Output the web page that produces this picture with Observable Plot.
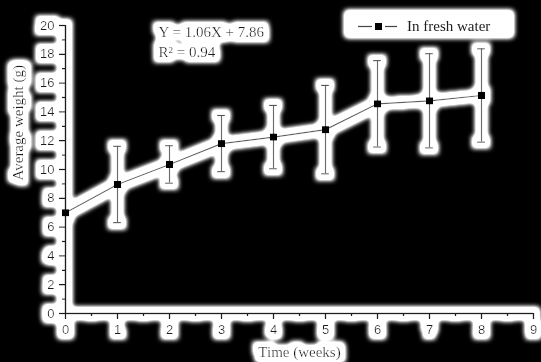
<!DOCTYPE html>
<html>
<head>
<meta charset="utf-8">
<script src="https://cdn.jsdelivr.net/npm/d3@7"></script>
<script src="https://cdn.jsdelivr.net/npm/@observablehq/plot@0.6"></script>
<style>
  html, body { margin: 0; padding: 0; background: #000; }
  #chart svg { display: block; background: #000; }
</style>
</head>
<body>
<div id="chart"></div>
<script>
// Average fish weight over nine weeks, mean ± SD
const weeks = [0, 1, 2, 3, 4, 5, 6, 7, 8];
const meanWeight = [7.0, 8.96, 10.35, 11.8, 12.25, 12.77, 14.56, 14.77, 15.14];
const sdWeight = [0, 2.65, 1.3, 1.95, 2.2, 3.07, 3.0, 3.27, 3.24];

const xTicks = d3.range(0, 10, 1);
const xMinorTicks = d3.range(0.5, 9, 1);
const yTicks = d3.range(0, 21, 2);
const yMinorTicks = d3.range(1, 20, 2);

const seriesName = "In fresh water";
const xTitle = "Time (weeks)";
const yTitle = "Average weight (g)";
const fitLines = ["Y = 1.06X + 7.86", "R\u00B2 = 0.94"];

const rows = weeks.map((w, i) => ({week: w, mean: meanWeight[i], sd: sdWeight[i]}));
const withSpread = rows.filter(d => d.sd > 0);

const ink = "#1b1b1b";
const serif = "Liberation Serif, Times New Roman, serif";
const capHalf = 0.075;

const plot = Plot.plot({
  width: 541,
  height: 362,
  marginLeft: 65,
  marginRight: 8,
  marginTop: 25,
  marginBottom: 49,
  style: {background: "#000", color: ink, fontFamily: "Liberation Sans, Arial, sans-serif", fontSize: "13px"},
  x: {domain: [0, 9]},
  y: {domain: [0, 20]},
  marks: [
    Plot.axisX({ticks: xTicks, tickSize: 6, tickPadding: 5, label: null, tickFormat: d3.format("d"), strokeWidth: 1.4}),
    Plot.axisX({ticks: xMinorTicks, tickSize: 3, label: null, tickFormat: () => "", strokeWidth: 1.4}),
    Plot.axisY({ticks: yTicks, tickSize: 6, tickPadding: 5, label: null, tickFormat: d3.format("d"), strokeWidth: 1.4}),
    Plot.axisY({ticks: yMinorTicks, tickSize: 3, label: null, tickFormat: () => "", strokeWidth: 1.4}),
    Plot.ruleX([0], {stroke: ink, strokeWidth: 1.6}),
    Plot.ruleY([0], {stroke: ink, strokeWidth: 1.6}),
    // axis titles
    Plot.text([xTitle], {frameAnchor: "bottom", dy: 39, lineAnchor: "middle", fontFamily: serif, fontSize: 15, fill: ink}),
    Plot.text([yTitle], {frameAnchor: "left", dx: -47, dy: 11, rotate: -90, fontFamily: serif, fontSize: 15, fill: ink}),
    // fitted regression equation
    Plot.text([fitLines.join("\n")], {frameAnchor: "top-left", dx: 93, dy: -3, textAnchor: "start", lineAnchor: "top", lineHeight: 1.33, fontFamily: serif, fontSize: 15, fill: ink}),
    // error bars with caps
    Plot.ruleX(withSpread, {x: "week", y1: d => d.mean - d.sd, y2: d => d.mean + d.sd, stroke: "#6a6a6a", strokeWidth: 1.2}),
    Plot.ruleY(withSpread, {y: d => d.mean + d.sd, x1: d => d.week - capHalf, x2: d => d.week + capHalf, stroke: "#555", strokeWidth: 1.2}),
    Plot.ruleY(withSpread, {y: d => d.mean - d.sd, x1: d => d.week - capHalf, x2: d => d.week + capHalf, stroke: "#555", strokeWidth: 1.2}),
    // mean trajectory
    Plot.line(rows, {x: "week", y: "mean", stroke: "#5e5e5e", strokeWidth: 1.2}),
    Plot.dot(rows, {x: "week", y: "mean", symbol: "square", r: 4, fill: "#000", stroke: null})
  ]
});

document.getElementById("chart").appendChild(plot);

// White halo behind everything drawn
const svg = d3.select(plot);
const groups = svg.selectAll(":scope > g").nodes();
const defs = svg.append("defs");
const f = defs.append("filter").attr("id", "halo")
  .attr("filterUnits", "userSpaceOnUse")
  .attr("x", 0).attr("y", 0).attr("width", 541).attr("height", 362);
f.append("feComponentTransfer").attr("in", "SourceAlpha").attr("result", "solid")
  .append("feFuncA").attr("type", "linear").attr("slope", 4);
f.append("feMorphology").attr("in", "solid").attr("operator", "dilate").attr("radius", 4.5).attr("result", "thick");
f.append("feGaussianBlur").attr("in", "thick").attr("stdDeviation", 2.8).attr("result", "soft");
f.append("feComponentTransfer").attr("in", "soft").attr("result", "strong")
  .append("feFuncA").attr("type", "linear").attr("slope", 1.8);
f.append("feFlood").attr("flood-color", "#fff").attr("result", "white");
f.append("feComposite").attr("in", "white").attr("in2", "strong").attr("operator", "in").attr("result", "glow");
const merge = f.append("feMerge");
merge.append("feMergeNode").attr("in", "glow");
merge.append("feMergeNode").attr("in", "SourceGraphic");

const wrap = svg.append("g").attr("filter", "url(#halo)");
groups.forEach(g => wrap.node().appendChild(g));

// Legend box
const legend = wrap.append("g");
legend.append("rect").attr("x", 349).attr("y", 15).attr("width", 160).attr("height", 18).attr("rx", 5).attr("fill", "#fff");
legend.append("line").attr("x1", 358).attr("x2", 372).attr("y1", 26.5).attr("y2", 26.5).attr("stroke", "#444").attr("stroke-width", 1.2);
legend.append("line").attr("x1", 385).attr("x2", 397).attr("y1", 26.5).attr("y2", 26.5).attr("stroke", "#444").attr("stroke-width", 1.2);
legend.append("rect").attr("x", 375).attr("y", 23).attr("width", 7).attr("height", 7).attr("fill", "#000");
legend.append("text").attr("x", 407).attr("y", 31).attr("text-anchor", "start")
  .attr("font-family", serif).attr("font-size", 15).attr("fill", ink).text(seriesName);
</script>
</body>
</html>
